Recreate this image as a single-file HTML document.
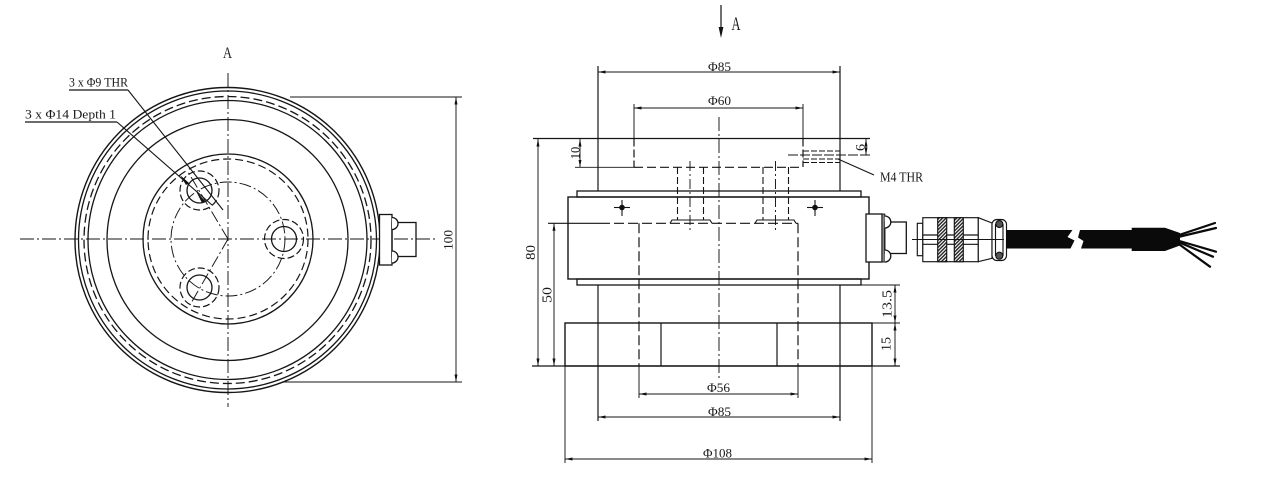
<!DOCTYPE html>
<html><head><meta charset="utf-8"><style>
html,body{margin:0;padding:0;background:#fff;}
svg{display:block;}
text{font-family:"Liberation Serif",serif;fill:#1a1a1a;}
</style></head><body>
<svg width="1275" height="503" viewBox="0 0 1275 503" xmlns="http://www.w3.org/2000/svg">
<defs>
<marker id="ar" viewBox="0 0 10 4" refX="10" refY="2" markerWidth="7.5" markerHeight="3" markerUnits="userSpaceOnUse" orient="auto-start-reverse"><path d="M0,0 L10,2 L0,4 z" fill="#111"/></marker>
<pattern id="hatch" width="2.5" height="2.5" patternUnits="userSpaceOnUse" patternTransform="rotate(45)"><rect width="2.5" height="2.5" fill="#fff"/><rect width="1.4" height="2.5" fill="#222"/></pattern>
</defs>

<!-- ============ LEFT VIEW ============ -->
<g fill="none" stroke="#151515">
  <line x1="228" y1="73" x2="228" y2="407" stroke-width="0.95" stroke-dasharray="14 3 2 3"/>
  <line x1="20" y1="239" x2="437" y2="239" stroke-width="0.95" stroke-dasharray="14 3 2 3"/>
  <circle cx="227.5" cy="240" r="152.5" stroke-width="1.4"/>
  <circle cx="227.5" cy="240" r="149" stroke-width="1.3"/>
  <circle cx="227.5" cy="240" r="143.5" stroke-width="1.3" stroke-dasharray="9 4"/>
  <circle cx="227.5" cy="240" r="139.5" stroke-width="1.3"/>
  <circle cx="227.5" cy="240" r="120.5" stroke-width="1.3"/>
  <circle cx="228" cy="239" r="85" stroke-width="1.3"/>
  <circle cx="228" cy="239" r="80" stroke-width="1.2" stroke-dasharray="8 4"/>
  <circle cx="228" cy="239" r="57" stroke-width="0.95" stroke-dasharray="12 3 2 3"/>
  <circle cx="284" cy="239" r="12.5" stroke-width="1.3"/>
  <circle cx="284" cy="239" r="19.5" stroke-width="1.2" stroke-dasharray="7 3"/>
  <circle cx="199.5" cy="190.5" r="12.5" stroke-width="1.3"/>
  <circle cx="199.5" cy="190.5" r="19.5" stroke-width="1.2" stroke-dasharray="7 3"/>
  <circle cx="199.5" cy="287.5" r="12.5" stroke-width="1.3"/>
  <circle cx="199.5" cy="287.5" r="19.5" stroke-width="1.2" stroke-dasharray="7 3"/>
  <line x1="228" y1="239" x2="188" y2="172" stroke-width="0.95" stroke-dasharray="12 3 2 3"/>
  <line x1="228" y1="239" x2="190" y2="305" stroke-width="0.95" stroke-dasharray="12 3 2 3"/>
  <line x1="69" y1="90" x2="128" y2="90" stroke-width="1.2"/>
  <line x1="128" y1="90" x2="223" y2="210" stroke-width="1.1"/>
  <line x1="25" y1="122" x2="117" y2="122" stroke-width="1.2"/>
  <line x1="117" y1="122" x2="212" y2="205" stroke-width="1.1"/>
  <rect x="379.5" y="214.5" width="12.5" height="50.5" stroke-width="1.3" fill="#fff"/>
  <rect x="392" y="222.5" width="24" height="34" stroke-width="1.3"/>
  <path d="M392,217.5 A6,6 0 0 1 392,229.5" stroke-width="1.3" fill="#fff"/>
  <path d="M392,251 A6,6 0 0 1 392,263" stroke-width="1.3" fill="#fff"/>
  <line x1="290" y1="97" x2="462" y2="97" stroke-width="0.95"/>
  <line x1="283" y1="382" x2="462" y2="382" stroke-width="0.95"/>
  <line x1="456" y1="97" x2="456" y2="382" stroke-width="0.95" marker-start="url(#ar)" marker-end="url(#ar)"/>
</g>
<polygon points="180,175 189,183 186,185" fill="#111"/>
<polygon points="196,191 205,201 202,203" fill="#111"/>
<text x="223" y="58" font-size="16" textLength="9" lengthAdjust="spacingAndGlyphs">A</text>
<text x="69" y="86.5" font-size="13" textLength="59" lengthAdjust="spacingAndGlyphs">3 x Φ9 THR</text>
<text x="25" y="118.5" font-size="13" textLength="91" lengthAdjust="spacingAndGlyphs">3 x Φ14 Depth 1</text>
<text x="448" y="240" font-size="13" text-anchor="middle" dominant-baseline="central" textLength="20" lengthAdjust="spacingAndGlyphs" transform="rotate(-90 448 240)">100</text>

<!-- ============ RIGHT VIEW ============ -->
<line x1="721" y1="5" x2="721" y2="30" stroke="#111" stroke-width="1.2"/>
<polygon points="721,38 718.6,27 723.4,27" fill="#111"/>
<text x="731.5" y="30" font-size="19" textLength="9" lengthAdjust="spacingAndGlyphs">A</text>

<g fill="none" stroke="#151515">
  <line x1="719" y1="117" x2="719" y2="380" stroke-width="0.95" stroke-dasharray="14 3 2 3"/>
  <line x1="533" y1="138.5" x2="870" y2="138.5" stroke-width="1.3"/>
  <line x1="598" y1="66" x2="598" y2="191" stroke-width="1.2"/>
  <line x1="840" y1="66" x2="840" y2="191" stroke-width="1.2"/>
  <line x1="634" y1="104" x2="634" y2="138.5" stroke-width="0.95"/>
  <line x1="803" y1="104" x2="803" y2="138.5" stroke-width="0.95"/>
  <line x1="634" y1="138.5" x2="634" y2="167" stroke-width="1.2" stroke-dasharray="8 3"/>
  <line x1="803" y1="138.5" x2="803" y2="167" stroke-width="1.2" stroke-dasharray="8 3"/>
  <line x1="575" y1="167.3" x2="634" y2="167.3" stroke-width="0.95"/>
  <line x1="634" y1="167.3" x2="803" y2="167.3" stroke-width="1.2" stroke-dasharray="9 4"/>
  <line x1="803" y1="151" x2="840" y2="151" stroke-width="1.1" stroke-dasharray="6 2"/>
  <line x1="788" y1="155" x2="870" y2="155" stroke-width="0.95" stroke-dasharray="10 2"/>
  <line x1="803" y1="159" x2="840" y2="159" stroke-width="1.1" stroke-dasharray="6 2"/>
  <line x1="803" y1="162.5" x2="840" y2="162.5" stroke-width="1.1" stroke-dasharray="6 2"/>
  <line x1="838" y1="159" x2="874" y2="175" stroke-width="1.1"/>
  <rect x="577" y="191" width="284" height="6" stroke-width="1.3"/>
  <rect x="568" y="197" width="301" height="82" stroke-width="1.4"/>
  <rect x="577" y="279" width="284" height="6" stroke-width="1.3"/>
  <line x1="677.5" y1="167" x2="677.5" y2="220" stroke-width="1.1" stroke-dasharray="7 3"/>
  <line x1="703.5" y1="167" x2="703.5" y2="220" stroke-width="1.1" stroke-dasharray="7 3"/>
  <line x1="690" y1="161" x2="690" y2="231" stroke-width="0.95" stroke-dasharray="10 3 2 3"/>
  <line x1="763" y1="167" x2="763" y2="220" stroke-width="1.1" stroke-dasharray="7 3"/>
  <line x1="788.5" y1="167" x2="788.5" y2="220" stroke-width="1.1" stroke-dasharray="7 3"/>
  <line x1="775.5" y1="161" x2="775.5" y2="231" stroke-width="0.95" stroke-dasharray="10 3 2 3"/>
  <path d="M670,223.3 L672,220 L710,220 L712,223.3" stroke-width="1.1"/>
  <path d="M755,223.3 L757,220 L794,220 L796,223.3" stroke-width="1.1"/>
  <line x1="548" y1="223.3" x2="600" y2="223.3" stroke-width="1.1"/>
  <line x1="600" y1="223.3" x2="798" y2="223.3" stroke-width="1.1" stroke-dasharray="10 4"/>
  <line x1="639" y1="223.3" x2="639" y2="366" stroke-width="1.2" stroke-dasharray="10 4"/>
  <line x1="798" y1="223.3" x2="798" y2="366" stroke-width="1.2" stroke-dasharray="10 4"/>
  <line x1="639" y1="366" x2="639" y2="398" stroke-width="0.95"/>
  <line x1="798" y1="366" x2="798" y2="398" stroke-width="0.95"/>
  <line x1="598" y1="285" x2="598" y2="421" stroke-width="1.2"/>
  <line x1="840" y1="285" x2="840" y2="421" stroke-width="1.2"/>
  <rect x="565" y="323" width="307" height="43" stroke-width="1.4"/>
  <line x1="661" y1="323" x2="661" y2="366" stroke-width="1.2"/>
  <line x1="777" y1="323" x2="777" y2="366" stroke-width="1.2"/>
  <line x1="565" y1="366" x2="565" y2="463" stroke-width="0.95"/>
  <line x1="872" y1="366" x2="872" y2="463" stroke-width="0.95"/>
  <line x1="532" y1="366" x2="900" y2="366" stroke-width="1.2"/>
  <line x1="861" y1="285" x2="900" y2="285" stroke-width="0.95"/>
  <line x1="872" y1="323" x2="900" y2="323" stroke-width="0.95"/>
  <line x1="598" y1="72" x2="840" y2="72" stroke-width="0.95" marker-start="url(#ar)" marker-end="url(#ar)"/>
  <line x1="634" y1="108" x2="803" y2="108" stroke-width="0.95" marker-start="url(#ar)" marker-end="url(#ar)"/>
  <line x1="639" y1="394" x2="798" y2="394" stroke-width="0.95" marker-start="url(#ar)" marker-end="url(#ar)"/>
  <line x1="598" y1="417" x2="840" y2="417" stroke-width="0.95" marker-start="url(#ar)" marker-end="url(#ar)"/>
  <line x1="565" y1="459" x2="872" y2="459" stroke-width="0.95" marker-start="url(#ar)" marker-end="url(#ar)"/>
  <line x1="538" y1="139" x2="538" y2="366" stroke-width="0.95" marker-start="url(#ar)" marker-end="url(#ar)"/>
  <line x1="554" y1="223.3" x2="554" y2="366" stroke-width="0.95" marker-start="url(#ar)" marker-end="url(#ar)"/>
  <line x1="580" y1="139" x2="580" y2="167.3" stroke-width="0.95" marker-start="url(#ar)" marker-end="url(#ar)"/>
  <line x1="866" y1="139" x2="866" y2="155" stroke-width="0.95" marker-start="url(#ar)" marker-end="url(#ar)"/>
  <line x1="895" y1="285" x2="895" y2="323" stroke-width="0.95" marker-start="url(#ar)" marker-end="url(#ar)"/>
  <line x1="895" y1="323" x2="895" y2="366" stroke-width="0.95" marker-start="url(#ar)" marker-end="url(#ar)"/>
  <line x1="614" y1="207.5" x2="630" y2="207.5" stroke-width="1.1"/>
  <line x1="622" y1="200" x2="622" y2="216" stroke-width="1.1"/>
  <line x1="807" y1="207.5" x2="823" y2="207.5" stroke-width="1.1"/>
  <line x1="815" y1="200" x2="815" y2="216" stroke-width="1.1"/>
</g>
<circle cx="622" cy="207.5" r="2.8" fill="#111"/>
<circle cx="815" cy="207.5" r="2.8" fill="#111"/>

<g stroke="#151515" fill="#fff">
  <rect x="866" y="214" width="16" height="48" stroke-width="1.3"/>
  <rect x="882" y="214" width="2.8" height="48" fill="#888" stroke-width="0.9"/>
  <rect x="884.8" y="222" width="21.5" height="31.5" stroke-width="1.3"/>
  <path d="M884.8,216 A6,6 0 0 1 884.8,228" stroke-width="1.3"/>
  <path d="M884.8,250 A6,6 0 0 1 884.8,262" stroke-width="1.3"/>
</g>

<g stroke="#151515" stroke-width="1.15" fill="#fff">
  <rect x="917.3" y="223.3" width="5.5" height="32.4"/>
  <rect x="922.8" y="217.7" width="55.5" height="44"/>
  <line x1="922.8" y1="235" x2="978.3" y2="235"/>
  <line x1="922.8" y1="244.3" x2="978.3" y2="244.3"/>
  <rect x="937.7" y="217.7" width="9" height="44" fill="url(#hatch)"/>
  <rect x="954.3" y="217.7" width="9" height="44" fill="url(#hatch)"/>
  <polygon points="978.3,217.7 992,223 992,258.3 978.3,261.7"/>
  <rect x="992" y="219.5" width="14.5" height="41" rx="5"/>
  <line x1="995.5" y1="224" x2="995.5" y2="256"/>
  <line x1="1003" y1="224" x2="1003" y2="256"/>
  <circle cx="999.3" cy="224" r="3.5" fill="#555"/>
  <circle cx="999.3" cy="255.7" r="3.5" fill="#555"/>
</g>
<line x1="912" y1="239.5" x2="1004" y2="239.5" stroke="#151515" stroke-width="0.95"/>

<path d="M1006,230 L1072.5,230 L1067.5,237 L1074.5,240.5 L1070.5,248.5 L1006,248.5 Z" fill="#0a0a0a"/>
<path d="M1080,230 L1131.7,230 L1131.7,227.7 L1165,227.7 L1180,233 L1180,245.5 L1165,251 L1131.7,251 L1131.7,248.5 L1081,248.5 L1083.5,241 L1078,237.5 Z" fill="#0a0a0a"/>
<g stroke="#0a0a0a" stroke-width="2.2" stroke-linecap="round">
  <line x1="1176" y1="236" x2="1215" y2="223"/>
  <line x1="1176" y1="237.5" x2="1216" y2="228"/>
  <line x1="1176" y1="240" x2="1216" y2="251.7"/>
  <line x1="1176" y1="241" x2="1213" y2="256.7"/>
  <line x1="1176" y1="242" x2="1210" y2="266.7"/>
</g>

<text x="708" y="71" font-size="13" textLength="23" lengthAdjust="spacingAndGlyphs">Φ85</text>
<text x="708" y="105" font-size="13" textLength="23" lengthAdjust="spacingAndGlyphs">Φ60</text>
<text x="707" y="392" font-size="13" textLength="23" lengthAdjust="spacingAndGlyphs">Φ56</text>
<text x="708" y="416" font-size="13" textLength="23" lengthAdjust="spacingAndGlyphs">Φ85</text>
<text x="703" y="457.5" font-size="13" textLength="29" lengthAdjust="spacingAndGlyphs">Φ108</text>
<text x="880" y="181.5" font-size="14" textLength="43" lengthAdjust="spacingAndGlyphs">M4 THR</text>
<text x="531.5" y="252.5" font-size="14" text-anchor="middle" dominant-baseline="central" textLength="15" lengthAdjust="spacingAndGlyphs" transform="rotate(-90 531.5 252.5)">80</text>
<text x="548" y="295" font-size="14" text-anchor="middle" dominant-baseline="central" textLength="16" lengthAdjust="spacingAndGlyphs" transform="rotate(-90 548 295)">50</text>
<text x="888" y="304" font-size="14" text-anchor="middle" dominant-baseline="central" textLength="28" lengthAdjust="spacingAndGlyphs" transform="rotate(-90 888 304)">13.5</text>
<text x="887" y="344" font-size="14" text-anchor="middle" dominant-baseline="central" textLength="14" lengthAdjust="spacingAndGlyphs" transform="rotate(-90 887 344)">15</text>
<text x="575" y="153" font-size="13" text-anchor="middle" dominant-baseline="central" textLength="12.5" lengthAdjust="spacingAndGlyphs" transform="rotate(-90 575 153)">10</text>
<text x="860" y="147.5" font-size="13" text-anchor="middle" dominant-baseline="central" textLength="7" lengthAdjust="spacingAndGlyphs" transform="rotate(-90 860 147.5)">6</text>
</svg>
</body></html>
